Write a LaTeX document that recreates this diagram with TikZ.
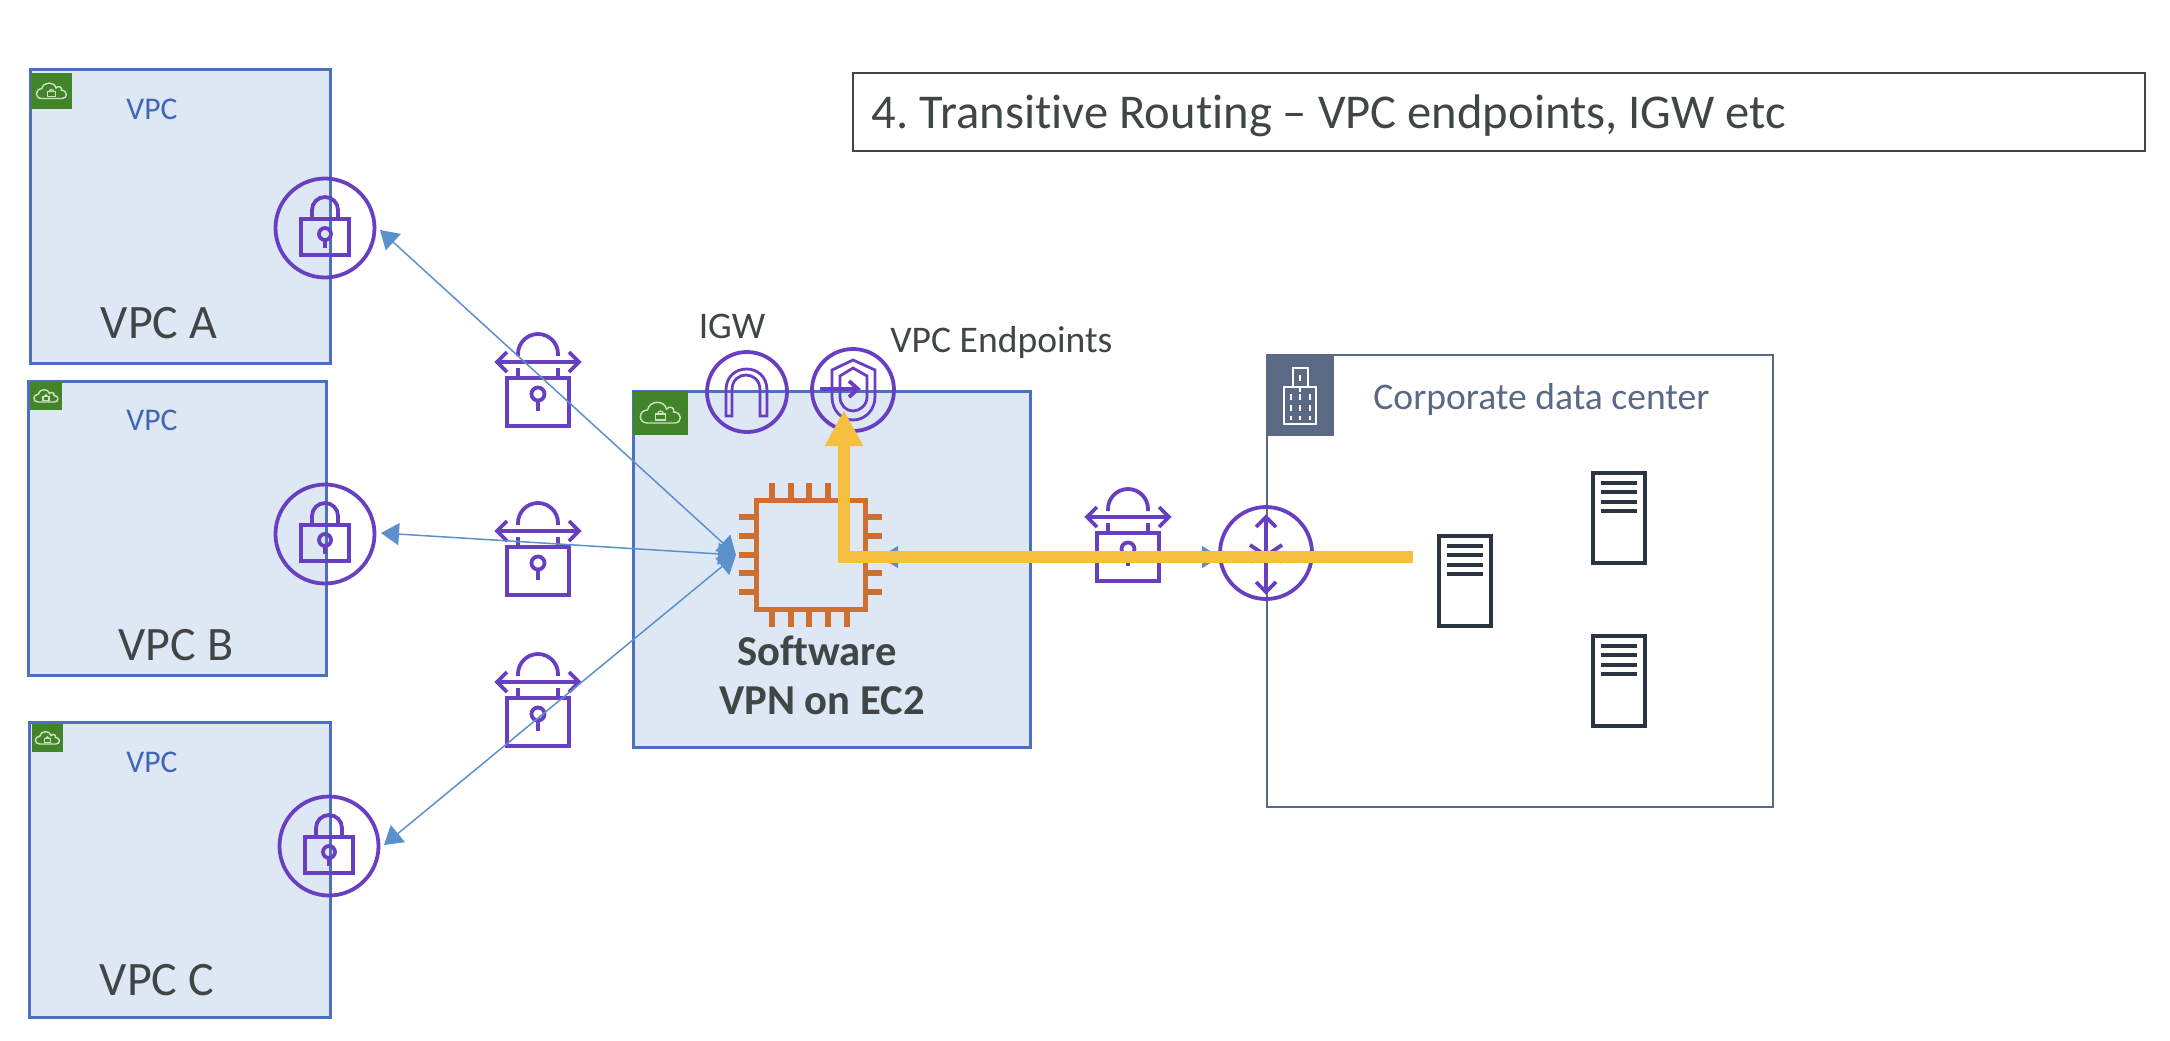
\documentclass[tikz,border=0pt]{standalone}
\usepackage{fontspec}
\setmainfont{Carlito}[Ligatures=NoCommon]
\usetikzlibrary{positioning,arrows.meta}
\definecolor{vpcfill}{HTML}{DEE8F5}
\definecolor{vpcline}{HTML}{4A70BF}
\definecolor{vpctext}{HTML}{3F66B8}
\definecolor{darktext}{HTML}{404545}
\definecolor{iconpurple}{HTML}{693FC2}
\definecolor{taggreen}{HTML}{428528}
\definecolor{cloudline}{HTML}{CFE0C8}
\definecolor{chiporange}{HTML}{CE6F2F}
\definecolor{routeyellow}{HTML}{F6BF3F}
\definecolor{linkblue}{HTML}{5B90CC}
\definecolor{dcslate}{HTML}{5A6A85}
\definecolor{serverdark}{HTML}{2B3443}
\tikzset{
  vpcbox/.style={draw=vpcline, fill=vpcfill, line width=1.5pt, anchor=north west, inner sep=0pt, outer sep=0pt},
  dcbox/.style={draw=dcslate, line width=1.25pt, anchor=north west, inner sep=0pt, outer sep=0pt},
  tagbox/.style={fill=taggreen, anchor=north west, inner sep=0pt, outer sep=0pt},
  slatetag/.style={fill=dcslate, anchor=north west, inner sep=0pt, outer sep=0pt},
  ring/.style={circle, draw=iconpurple, line width=1.9pt, inner sep=0pt, minimum size=#1},
  ring/.default=49.5pt,
  vpctag/.style={text=vpctext, font=\fontsize{15.8}{18}\selectfont},
  biglabel/.style={text=darktext, font=\fontsize{24}{28}\selectfont},
  midlabel/.style={text=darktext, font=\fontsize{18.8}{22}\selectfont},
  boldlabel/.style={text=darktext, font=\fontsize{21.3}{25}\selectfont\bfseries},
  icon/.style={draw=iconpurple, line width=1.9pt},
  link/.style={draw=linkblue, line width=.75pt, {Triangle[length=9pt,width=11pt]}-{Triangle[length=9pt,width=11pt]}},
  hotroute/.style={draw=routeyellow, line width=6pt, -{Triangle[length=18pt,width=18pt]}},
  pics/tunnellock/.style={code={
    \draw [icon] (-20,-6) -- (-20,-8) arc (180:360:20) -- (20,-6);
    \draw [icon] (-20,6) -- (-20,16) (20,6) -- (20,16);
    \draw [icon] (-41,0) -- (41,0);
    \draw [icon] (-31,-10) -- (-41,0) -- (-31,10);
    \draw [icon] (31,-10) -- (41,0) -- (31,10);
    \draw [icon] (-31,16) rectangle (31,64);
    \draw [icon] (0,32) circle (6.5);
    \draw [icon] (0,39) -- (0,49);
  }},
  pics/ringlock/.style={code={
    \draw [icon] (-13,-9) -- (-13,-18) arc (180:360:13) -- (13,-9);
    \draw [icon] (-24,-9) rectangle (24,27);
    \draw [icon] (0,6) circle (6);
    \draw [icon] (0,12) -- (0,20);
  }},
  pics/cloudlock/.style={code={
    \draw [draw=cloudline, line width=.7pt] (-13,10) .. controls (-23,10) and (-22,-3) .. (-13,-3) .. controls (-11,-13) and (4,-13) .. (6,-4) .. controls (9,-8) and (15,-5) .. (13,-1) .. controls (22,-1) and (22,10) .. (14,10) -- cycle;
    \draw [draw=cloudline, line width=.6pt] (-5,1) rectangle (5,7);
    \draw [draw=cloudline, line width=.6pt] (-3,1) arc (180:360:3);
  }},
  pics/serverbox/.style={code={
    \draw [draw=serverdark, line width=1.6pt, fill=white] (-26,-45) rectangle (26,45);
    \foreach \dy in {-35,-26,-16,-7} {
      \draw [draw=serverdark, line width=1.7pt] (-18,\dy) -- (18,\dy);
    }
  }},
}
\begin{document}
\begin{tikzpicture}[x=.5pt, y=-.5pt]
  \useasboundingbox (0,0) rectangle (2170,1040);

  \node [vpcbox, minimum width=150pt, minimum height=147pt] (vpca) at (30,69) {};
  \node [vpcbox, minimum width=149pt, minimum height=147pt] (vpcb) at (28,381) {};
  \node [vpcbox, minimum width=150.5pt, minimum height=147.5pt] (vpcc) at (29,722) {};
  \node [vpcbox, minimum width=198.5pt, minimum height=178pt] (vpnbox) at (633,391) {};
  \node [dcbox, minimum width=253pt, minimum height=226pt] (dcbox) at (1267,355) {};

  \node [tagbox, minimum width=20.5pt, minimum height=18pt] (taga) at (31,73) {};
  \node [tagbox, minimum width=16pt, minimum height=14pt] (tagb) at (30,382) {};
  \node [tagbox, minimum width=15.5pt, minimum height=14pt] (tagc) at (32,724) {};
  \node [tagbox, minimum width=27.5pt, minimum height=22pt] (tagvpn) at (633,391) {};
  \node [slatetag, minimum width=33.5pt, minimum height=40.5pt] (tagdc) at (1267,355) {};

  \pic [scale=.75] at (taga.center) {cloudlock};
  \pic [scale=.6] at (tagb.center) {cloudlock};
  \pic [scale=.6] at (tagc.center) {cloudlock};
  \pic at (tagvpn.center) {cloudlock};

  \node [vpctag] (vpclabela) at (152,109) {VPC};
  \node [vpctag] (vpclabelb) at (152,420) {VPC};
  \node [vpctag] (vpclabelc) at (152,762) {VPC};
  \node [biglabel] (labela) at (159,323) {VPC A};
  \node [biglabel] (labelb) at (176,645) {VPC B};
  \node [biglabel] (labelc) at (157,980) {VPC C};

  \node [draw=darktext, line width=.75pt, anchor=north west, minimum width=646pt, minimum height=39pt, inner sep=0pt] (titlebox) at (852,72) {};
  \node [biglabel, font=\fontsize{24.3}{28}\selectfont, anchor=west, inner sep=0pt] (title) at (871,116) {4.\kern-1.5pt{} Transitive Routing -- VPC endpoints, IGW etc};

  \node [ring] (ringa) at (325,228) {};
  \node [ring] (ringb) at (325,534) {};
  \node [ring] (ringc) at (329,846) {};
  \pic at (ringa.center) {ringlock};
  \pic at (ringb.center) {ringlock};
  \pic at (ringc.center) {ringlock};

  \pic at (538,362) {tunnellock};
  \pic at (538,531) {tunnellock};
  \pic at (538,682) {tunnellock};
  \pic at (1128,517) {tunnellock};

  \node [ring=40pt] (igw) at (747,392) {};
  \node [ring=41pt] (endpoints) at (853,390) {};
  \node [midlabel] (igwlabel) at (732,326) {IGW};
  \node [midlabel, anchor=west, inner sep=0pt] (endpointslabel) at (890,342) {VPC Endpoints};
  \draw [icon, line width=1.4pt] (726,416) -- (726,390) .. controls (726,362) and (767,362) .. (767,390) -- (767,416) -- (760,416) -- (760,390) .. controls (760,370) and (732,370) .. (732,390) -- (732,416) -- cycle;
  \draw [icon, line width=1.4pt] (853,360) -- (875,370) -- (875,397) .. controls (875,410) and (865,420) .. (853,420) .. controls (841,420) and (832,410) .. (832,397) -- (832,370) -- cycle;
  \draw [icon, line width=1.4pt] (840,397) -- (840,376) -- (853,368) -- (867,376) -- (867,397) .. controls (867,405) and (860,411) .. (853,411) .. controls (846,411) and (840,405) .. (840,397);
  \draw [icon] (820,389) -- (858,389);
  \draw [icon] (849,381) -- (858,389) -- (849,397);

  \foreach \px in {772,791,809,828,847} {
    \draw [draw=chiporange, line width=3pt] (\px,483) -- (\px,500);
    \draw [draw=chiporange, line width=3pt] (\px,610) -- (\px,627);
  }
  \foreach \py in {517,536,555,573,592} {
    \draw [draw=chiporange, line width=3pt] (739,\py) -- (756,\py);
    \draw [draw=chiporange, line width=3pt] (865,\py) -- (882,\py);
  }
  \node [draw=chiporange, line width=2.5pt, minimum size=54.5pt, inner sep=0pt] (chip) at (810.5,555) {};
  \node [boldlabel] (softwarelabel) at (817,651) {Software};
  \node [boldlabel] (vpnlabel) at (822,701) {VPN on EC2};

  \node [ring=46pt] (router) at (1266,553) {};
  \draw [icon] (1266,517) -- (1266,592);
  \draw [icon] (1256,527) -- (1266,517) -- (1276,527);
  \draw [icon] (1256,582) -- (1266,592) -- (1276,582);
  \draw [icon] (1250,545) -- (1262,553) -- (1250,562);
  \draw [icon] (1282,545) -- (1270,553) -- (1282,562);

  \node [midlabel, text=dcslate, anchor=west, inner sep=0pt] (dclabel) at (1373,399) {Corporate data center};
  \draw [draw=white, line width=.9pt] (1284,387) rectangle (1316,424);
  \draw [draw=white, line width=.9pt] (1293,387) -- (1293,368) -- (1308,368) -- (1308,387);
  \foreach \bx in {1291,1300,1310} {
    \draw [draw=white, line width=.9pt, dash pattern=on 3pt off 2.5pt] (\bx,394) -- (\bx,420);
  }
  \draw [draw=white, line width=.9pt, dash pattern=on 3pt off 2.5pt] (1300,375) -- (1300,394);

  \pic at (1465,581) {serverbox};
  \pic at (1619,518) {serverbox};
  \pic at (1619,681) {serverbox};

  \coordinate (cpuwest) at (736,555);
  \coordinate (cpueast) at (880,557);
  \coordinate (portA) at (380,230);
  \coordinate (portB) at (381,533);
  \coordinate (portC) at (384,845);
  \coordinate (routerwest) at (1220,557);
  \draw [link] (portA) -- (cpuwest);
  \draw [link] (portB) -- (cpuwest);
  \draw [link] (portC) -- (cpuwest);
  \draw [link] (cpueast) -- (routerwest);

  \coordinate (dcend) at (1413,557);
  \coordinate (vpnturn) at (844,557);
  \coordinate (endpointin) at (844,410);
  \draw [hotroute] (dcend) -- (vpnturn) -- (endpointin);
\end{tikzpicture}
\end{document}
